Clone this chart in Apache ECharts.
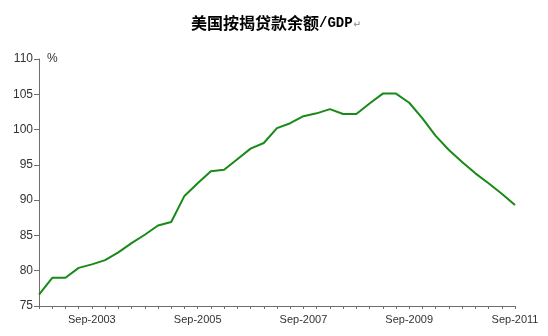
<!DOCTYPE html>
<html>
<head>
<meta charset="utf-8">
<script src="https://cdn.jsdelivr.net/npm/echarts@6/dist/echarts.min.js"></script>
<style>
  html, body { margin: 0; padding: 0; background: #fff; }
  #chart { width: 548px; height: 336px; }
</style>
</head>
<body>
<div id="chart"></div>
<script>
// Quarterly observations, Sep-2002 to Sep-2011
const quarters = [
  'Sep-2002', 'Dec-2002', 'Mar-2003', 'Jun-2003',
  'Sep-2003', 'Dec-2003', 'Mar-2004', 'Jun-2004',
  'Sep-2004', 'Dec-2004', 'Mar-2005', 'Jun-2005',
  'Sep-2005', 'Dec-2005', 'Mar-2006', 'Jun-2006',
  'Sep-2006', 'Dec-2006', 'Mar-2007', 'Jun-2007',
  'Sep-2007', 'Dec-2007', 'Mar-2008', 'Jun-2008',
  'Sep-2008', 'Dec-2008', 'Mar-2009', 'Jun-2009',
  'Sep-2009', 'Dec-2009', 'Mar-2010', 'Jun-2010',
  'Sep-2010', 'Dec-2010', 'Mar-2011', 'Jun-2011',
  'Sep-2011'
];

// Mortgage debt outstanding as a share of GDP (%)
const mortgageToGdp = [
  76.6, 79.0, 79.0, 80.4,
  80.9, 81.5, 82.6, 83.9,
  85.1, 86.4, 86.9, 90.6,
  92.4, 94.1, 94.3, 95.8,
  97.3, 98.1, 100.2, 100.9,
  101.9, 102.3, 102.9, 102.2,
  102.2, 103.7, 105.1, 105.1,
  103.8, 101.6, 99.1, 97.1,
  95.4, 93.8, 92.4, 90.9,
  89.3
];

// Quarters that carry a date label on the x axis
const labelledQuarters = ['Sep-2003', 'Sep-2005', 'Sep-2007', 'Sep-2009', 'Sep-2011'];

const chart = echarts.init(document.getElementById('chart'), null, { renderer: 'canvas' });

const axisGrey = '#6e6e6e';
const labelColor = '#333333';
const latin = 'Arial, "Liberation Sans", sans-serif';

chart.setOption({
  backgroundColor: '#ffffff',
  animation: false,
  title: {
    text: '{cn|美国按揭贷款余额}{lat|/GDP}{mark|↵}',
    left: 186,
    top: 10,
    textStyle: {
      rich: {
        cn: { fontFamily: '"Noto Sans CJK SC"', fontWeight: 'bold', fontSize: 16, color: '#000' },
        lat: { fontFamily: '"Liberation Mono", "DejaVu Sans Mono", monospace', fontWeight: 'bold', fontSize: 14, color: '#000' },
        mark: { fontFamily: '"DejaVu Sans"', fontSize: 9, color: '#9a9a9a', padding: [4, 0, 0, 1] }
      }
    }
  },
  grid: { left: 39, right: 33, top: 59, bottom: 30, containLabel: false },
  xAxis: {
    type: 'category',
    data: quarters,
    boundaryGap: false,
    axisLine: { lineStyle: { color: axisGrey, width: 1 } },
    axisTick: { show: true, interval: 0, length: 3, lineStyle: { color: axisGrey } },
    axisLabel: {
      interval: (idx, val) => labelledQuarters.includes(val),
      color: labelColor,
      fontFamily: latin,
      fontSize: 11,
      margin: 8,
      showMaxLabel: true
    },
    splitLine: { show: false }
  },
  yAxis: {
    type: 'value',
    min: 75,
    max: 110,
    interval: 5,
    name: '%',
    nameLocation: 'end',
    nameGap: 0,
    nameTextStyle: {
      color: labelColor,
      fontFamily: latin,
      fontSize: 12,
      align: 'left',
      verticalAlign: 'middle',
      padding: [0, 0, 0, 8]
    },
    axisLine: { show: true, lineStyle: { color: axisGrey, width: 1 } },
    axisTick: { show: true, inside: false, length: 5, lineStyle: { color: axisGrey } },
    axisLabel: { color: labelColor, fontFamily: latin, fontSize: 12, margin: 6 },
    splitLine: { show: false }
  },
  series: [{
    type: 'line',
    data: mortgageToGdp,
    showSymbol: false,
    smooth: false,
    lineStyle: { color: '#178a17', width: 2 },
    itemStyle: { color: '#178a17' }
  }]
});
</script>
</body>
</html>
